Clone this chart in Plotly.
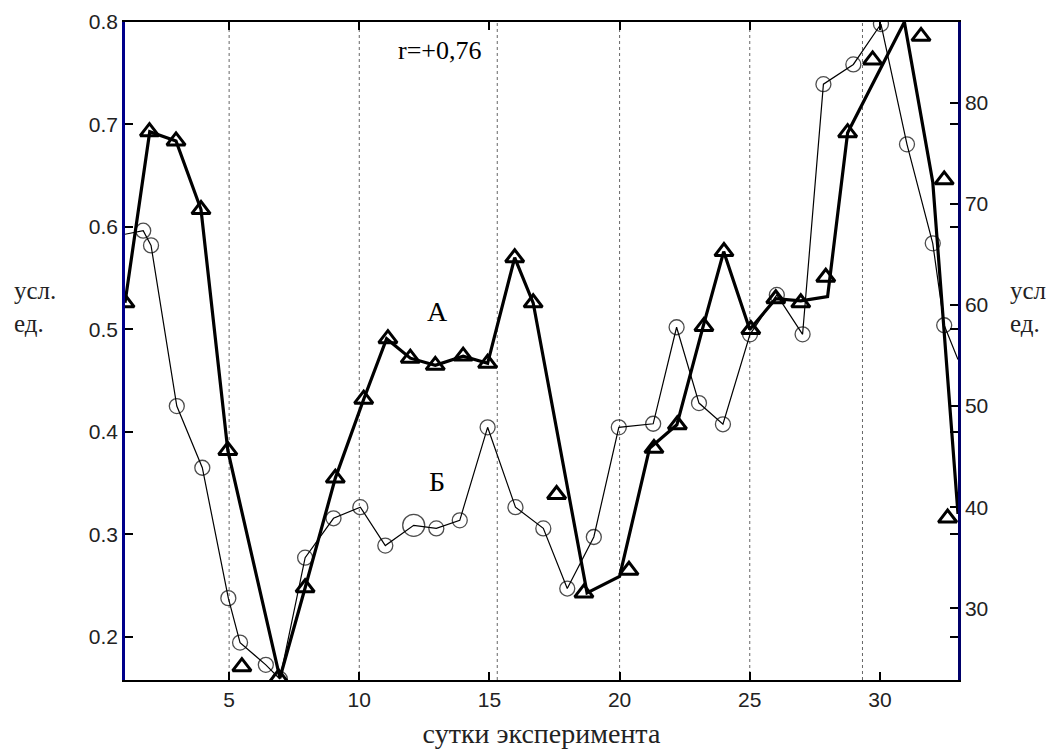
import plotly.graph_objects as go

# ---- data ----
# Series A (thick line, triangles), left axis, "усл. ед."
A_line_x = [1.0, 1.95, 2.96, 3.92, 4.95, 6.95, 7.92, 9.08, 10.17, 11.05, 11.96, 12.92, 13.99, 14.93,
            15.97, 16.68, 18.75, 20.0, 21.15, 22.2, 23.2, 24.0, 25.0, 26.0, 26.96, 27.99, 28.76,
            30.94, 32.03, 33.0]
A_line_y = [0.526, 0.693, 0.684, 0.617, 0.382, 0.160, 0.248, 0.355, 0.432, 0.491, 0.472, 0.465, 0.474, 0.467,
            0.570, 0.526, 0.243, 0.259, 0.384, 0.407, 0.502, 0.576, 0.500, 0.530, 0.528, 0.532, 0.692,
            0.800, 0.644, 0.320]
A_mark_x = [1.0, 1.94, 2.96, 3.92, 4.95, 5.49, 6.9, 7.92, 9.08, 10.17, 11.1, 11.96, 12.92, 13.99, 14.93,
            15.97, 16.68, 17.58, 18.63, 20.36, 21.32, 22.22, 23.24, 24.01, 25.04, 26.0, 26.96, 27.92,
            28.76, 29.72, 31.58, 32.47, 32.6]
A_mark_y = [0.526, 0.693, 0.684, 0.617, 0.382, 0.171, 0.160, 0.248, 0.355, 0.432, 0.491, 0.472, 0.465, 0.474, 0.467,
            0.570, 0.526, 0.339, 0.243, 0.265, 0.384, 0.407, 0.503, 0.576, 0.500, 0.530, 0.526, 0.551,
            0.692, 0.763, 0.786, 0.646, 0.316]

# Series Б (thin line, circles), right axis
B_x = [1.0, 1.70, 2.0, 2.99, 3.97, 4.97, 5.42, 6.41, 6.95, 7.92, 9.01, 10.04, 11.0, 12.09, 12.96, 13.86,
       14.93, 16.0, 17.07, 17.99, 19.01, 19.97, 21.29, 22.19, 23.05, 23.97, 25.01, 26.04, 27.03,
       27.83, 28.98, 30.04, 31.04, 32.03, 32.47, 33.0]
B_y = [67.0, 67.35, 65.9, 50.0, 43.9, 31.0, 26.6, 24.4, 23.0, 35.0, 38.9, 40.0, 36.2, 38.2, 37.9, 38.7,
       47.9, 40.0, 37.9, 31.95, 37.05, 47.9, 48.25, 57.8, 50.3, 48.2, 57.1, 61.0, 57.1,
       81.85, 83.8, 87.8, 75.9, 66.1, 58.0, 54.6]

X_TICKS = [5, 10, 15, 20, 25, 30]
LEFT_TICKS = [0.2, 0.3, 0.4, 0.5, 0.6, 0.7, 0.8]
RIGHT_TICKS = [30, 40, 50, 60, 70, 80]
GRID_X = [5, 10, 15.3, 20, 25, 29.33]

# ---- style ----
B_sizes = [15] * len(B_x)
B_sizes[0] = 0
B_sizes[-1] = 0
B_sizes[B_x.index(12.09)] = 22

fig = go.Figure()
fig.add_trace(go.Scatter(x=A_line_x, y=A_line_y, mode='lines', yaxis='y',
                         line=dict(color='black', width=3.2), showlegend=False, hoverinfo='skip'))
fig.add_trace(go.Scatter(x=A_mark_x, y=A_mark_y, mode='markers', yaxis='y',
                         marker=dict(symbol='triangle-up-open', size=16, color='black',
                                     line=dict(width=3)), showlegend=False))
fig.add_trace(go.Scatter(x=B_x, y=B_y, mode='lines+markers', yaxis='y2',
                         line=dict(color='black', width=1.2),
                         marker=dict(symbol='circle-open', size=B_sizes, color='black',
                                     line=dict(width=1.3)), showlegend=False))

for gx in GRID_X:
    fig.add_shape(type='line', x0=gx, x1=gx, y0=0, y1=1, xref='x', yref='paper',
                  line=dict(color='#666', width=1, dash='dot'), layer='below')

tickfont = dict(family='Liberation Sans, Arial, sans-serif', size=21, color='#222')
serif = 'Liberation Serif, Times New Roman, serif'

fig.update_layout(
    width=1047, height=741,
    margin=dict(l=117, r=97, t=14, b=69),
    paper_bgcolor='white', plot_bgcolor='white',
    xaxis=dict(range=[1, 33], tickvals=X_TICKS, ticks='inside', ticklen=8, tickwidth=2,
               tickcolor='black', showline=True, linecolor='black', linewidth=2, mirror='ticks',
               showgrid=False, zeroline=False, tickfont=tickfont, automargin=False,
               title=dict(text='сутки эксперимента', font=dict(family=serif, size=28, color='#222'),
                          standoff=14)),
    yaxis=dict(range=[0.158, 0.8], tickvals=LEFT_TICKS, ticktext=[f'{v:.1f}' for v in LEFT_TICKS],
               ticks='inside', ticklen=8, tickwidth=1.5, tickcolor='black', showline=True,
               linecolor='#00008b', linewidth=2.5, mirror='ticks', showgrid=False, zeroline=False,
               tickfont=tickfont, automargin=False),
    yaxis2=dict(range=[22.9, 88], tickvals=RIGHT_TICKS, overlaying='y', side='right', anchor='x',
                ticks='inside', ticklen=8, tickwidth=1.5, tickcolor='black', showline=True,
                linecolor='#00006a', linewidth=2.5, showgrid=False, zeroline=False, tickfont=tickfont,
                automargin=False),
)

fig.add_annotation(x=13.1, y=0.772, xref='x', yref='y', text='r=+0,76', showarrow=False,
                   font=dict(family=serif, size=26, color='black'))
fig.add_annotation(x=13.0, y=0.518, xref='x', yref='y', text='А', showarrow=False,
                   font=dict(family=serif, size=28, color='black'))
fig.add_annotation(x=13.0, y=0.352, xref='x', yref='y', text='Б', showarrow=False,
                   font=dict(family=serif, size=28, color='black'))
fig.add_annotation(x=-0.136, y=0.567, xref='paper', yref='paper', text='усл.<br>ед.',
                   showarrow=False, xanchor='left', align='left',
                   font=dict(family=serif, size=25, color='#222'))
fig.add_annotation(x=1.06, y=0.567, xref='paper', yref='paper', text='усл.<br>ед.',
                   showarrow=False, xanchor='left', align='left',
                   font=dict(family=serif, size=25, color='#222'))

fig.write_html('out.html')
